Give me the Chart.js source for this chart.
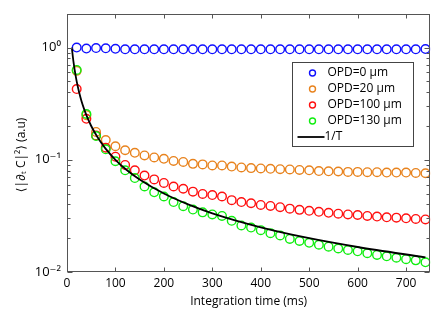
<!DOCTYPE html>
<html>
<head>
<meta charset="utf-8">
<script src="https://cdn.jsdelivr.net/npm/chart.js@4.4.1/dist/chart.umd.min.js"></script>
<style>
  body { margin: 0; background: #fff; }
  #wrap { width: 436px; height: 309px; }
</style>
</head>
<body>
<div id="wrap"><canvas id="grafico" width="436" height="309"></canvas></div>
<script>
// tiempos de integración (ms)
const tiempos = [20, 40, 60, 80, 100, 120, 140, 160, 180, 200, 220, 240, 260, 280, 300,
    320, 340, 360, 380, 400, 420, 440, 460, 480, 500, 520, 540, 560, 580, 600,
    620, 640, 660, 680, 700, 720, 740];

const opd0 = [1.00, 0.98, 0.99, 0.985, 0.975, 0.965, 0.965, 0.965, 0.965, 0.965, 0.965, 0.965, 0.965, 0.965, 0.965,
    0.965, 0.965, 0.965, 0.965, 0.965, 0.965, 0.965, 0.965, 0.965, 0.965, 0.965, 0.965, 0.965, 0.965, 0.965,
    0.965, 0.965, 0.965, 0.965, 0.965, 0.965, 0.97];

const opd20 = [0.62, 0.25, 0.177, 0.150, 0.132, 0.1216, 0.1154, 0.1094, 0.105, 0.102, 0.0977, 0.0957, 0.092, 0.091, 0.089,
    0.089, 0.087, 0.0855, 0.0843, 0.0837, 0.0831, 0.0825, 0.082, 0.0812, 0.0806, 0.0794, 0.079, 0.0786, 0.078, 0.078,
    0.0775, 0.0775, 0.077, 0.077, 0.077, 0.0763, 0.0759];

const opd100 = [0.427, 0.232, 0.165, 0.128, 0.1066, 0.090, 0.0806, 0.0724, 0.0669, 0.0622, 0.0578, 0.0552, 0.052, 0.0496, 0.0485,
    0.0471, 0.0437, 0.042, 0.041, 0.0396, 0.0388, 0.0378, 0.0367, 0.0358, 0.0351, 0.0344, 0.0337, 0.0331, 0.0326, 0.0322,
    0.0316, 0.0312, 0.0307, 0.0305, 0.0301, 0.0297, 0.0294];

const opd130 = [0.632, 0.256, 0.163, 0.124, 0.097, 0.0806, 0.0687, 0.0578, 0.0513, 0.0471, 0.042, 0.0386, 0.036, 0.034, 0.0326,
    0.0316, 0.0286, 0.026, 0.0249, 0.0236, 0.0222, 0.0212, 0.0197, 0.0189, 0.0182, 0.0175, 0.0168, 0.0162, 0.0157, 0.0153,
    0.0147, 0.0142, 0.0138, 0.0134, 0.0130, 0.0127, 0.0122];

// curva de referencia 1/T
const tiemposRef = [10, 12, 14, 16, 18, 20, 25, 30, 35, 40, 50, 60, 70, 80, 100, 120, 150, 200, 250, 300, 400, 500, 600, 740];
const curvaRef = [1, 0.833, 0.714, 0.625, 0.556, 0.5, 0.4, 0.333, 0.286, 0.25, 0.2, 0.167, 0.143, 0.125, 0.1, 0.0833,
    0.0667, 0.05, 0.04, 0.0333, 0.025, 0.02, 0.0167, 0.0135];

const ticksX = [0, 100, 200, 300, 400, 500, 600, 700];
const ticksY = [0.01, 0.1, 1];
const etiquetasY = { 0.01: '10\u207B\u00B2', 0.1: '10\u207B\u00B9', 1: '10\u2070' };

const fuente = "'Open Sans', 'DejaVu Sans', sans-serif";
const colorEje = '#555555';

function puntos(xs, ys) {
    return xs.map((x, i) => ({ x: x, y: ys[i] }));
}

function serie(label, ys, color, orden) {
    return {
        label: label,
        data: puntos(tiempos, ys),
        showLine: false,
        pointStyle: 'circle',
        pointRadius: 4.3,
        pointBorderWidth: 1.4,
        pointBackgroundColor: 'rgba(0,0,0,0)',
        borderColor: color,
        backgroundColor: color,
        order: orden
    };
}

// marco con ticks hacia dentro, al estilo MATLAB
const marcoPlugin = {
    id: 'marco',
    afterDatasetsDraw(chart) {
        const { ctx, chartArea: a, scales: { x, y } } = chart;
        ctx.save();
        ctx.strokeStyle = colorEje;
        ctx.lineWidth = 1;
        const linea = (x1, y1, x2, y2) => {
            ctx.beginPath();
            ctx.moveTo(x1, y1);
            ctx.lineTo(x2, y2);
            ctx.stroke();
        };
        const L = Math.round(a.left) + 0.5, R = Math.round(a.right) - 0.5;
        const T = Math.round(a.top) + 0.5, B = Math.round(a.bottom) - 0.5;
        ctx.strokeRect(L, T, R - L, B - T);

        ticksX.forEach(v => {
            const px = Math.round(x.getPixelForValue(v)) + 0.5;
            linea(px, B, px, B - 4);
            linea(px, T, px, T + 4);
        });

        for (let e = -2; e <= 0; e++) {
            for (let m = 1; m <= 9; m++) {
                const v = m * Math.pow(10, e);
                if (v > y.max) break;
                const py = Math.round(y.getPixelForValue(v)) + 0.5;
                const largo = m === 1 ? 5 : 3;
                linea(L, py, L + largo, py);
                linea(R, py, R - largo, py);
            }
        }
        ctx.restore();
    },
    afterDraw(chart) {
        // leyenda dentro del área del gráfico
        const { ctx } = chart;
        const caja = { x: 292.5, y: 62.5, w: 121, h: 84 };
        ctx.save();
        ctx.fillStyle = '#ffffff';
        ctx.fillRect(caja.x, caja.y, caja.w, caja.h);
        ctx.strokeStyle = '#444444';
        ctx.lineWidth = 1;
        ctx.strokeRect(caja.x, caja.y, caja.w, caja.h);
        ctx.font = '12px ' + fuente;
        ctx.textBaseline = 'middle';
        ctx.textAlign = 'left';
        chart.data.datasets.forEach((ds, i) => {
            const yy = caja.y + 10.5 + i * 16;
            if (ds.showLine) {
                ctx.strokeStyle = ds.borderColor;
                ctx.lineWidth = 1.8;
                ctx.beginPath();
                ctx.moveTo(caja.x + 5, yy);
                ctx.lineTo(caja.x + 32, yy);
                ctx.stroke();
                ctx.fillStyle = '#000';
                ctx.fillText(ds.label, caja.x + 32, yy);
            } else {
                ctx.strokeStyle = ds.borderColor;
                ctx.lineWidth = 1.4;
                ctx.beginPath();
                ctx.arc(caja.x + 20, yy, 3, 0, Math.PI * 2);
                ctx.stroke();
                ctx.fillStyle = '#000';
                ctx.fillText(ds.label, caja.x + 35, yy);
            }
        });
        ctx.restore();
    }
};

const ctx = document.getElementById('grafico').getContext('2d');

new Chart(ctx, {
    type: 'scatter',
    data: {
        datasets: [
            serie('OPD=0 \u00B5m', opd0, '#1010ff', 5),
            serie('OPD=20 \u00B5m', opd20, '#e8831e', 4),
            serie('OPD=100 \u00B5m', opd100, '#ff1010', 3),
            serie('OPD=130 \u00B5m', opd130, '#10ee10', 2),
            {
                label: '1/T',
                data: puntos(tiemposRef, curvaRef),
                showLine: true,
                borderColor: '#000000',
                borderWidth: 1.8,
                pointRadius: 0,
                cubicInterpolationMode: 'monotone',
                order: 1
            }
        ]
    },
    options: {
        responsive: false,
        animation: false,
        layout: { padding: { top: 5, right: 5, left: 0, bottom: 0 } },
        plugins: {
            legend: { display: false },
            tooltip: { enabled: false }
        },
        scales: {
            x: {
                type: 'linear',
                min: 0,
                max: 750,
                afterBuildTicks: s => { s.ticks = ticksX.map(v => ({ value: v })); },
                afterFit: s => { s.height = 37; },
                grid: { display: false, drawTicks: false },
                border: { display: false },
                ticks: { color: '#000', font: { family: fuente, size: 12 }, padding: 4, maxRotation: 0 },
                title: {
                    display: true,
                    text: 'Integration time (ms)',
                    color: '#000',
                    font: { family: fuente, size: 12 },
                    padding: { top: 0, bottom: 0 }
                }
            },
            y: {
                type: 'logarithmic',
                min: 0.01,
                max: 2,
                afterBuildTicks: s => { s.ticks = ticksY.map(v => ({ value: v })); },
                afterFit: s => { s.width = 67; },
                grid: { display: false, drawTicks: false },
                border: { display: false },
                ticks: {
                    color: '#000',
                    font: { family: fuente, size: 13 },
                    padding: 6,
                    callback: v => etiquetasY[v] || ''
                },
                title: {
                    display: true,
                    text: '\u27E8|\u2202\u209C C|\u00B2\u27E9 (a.u)\u2003\u2003',
                    color: '#000',
                    font: { family: fuente, size: 12 },
                    padding: { top: 14, bottom: 0 }
                }
            }
        }
    },
    plugins: [marcoPlugin]
});
</script>
</body>
</html>
